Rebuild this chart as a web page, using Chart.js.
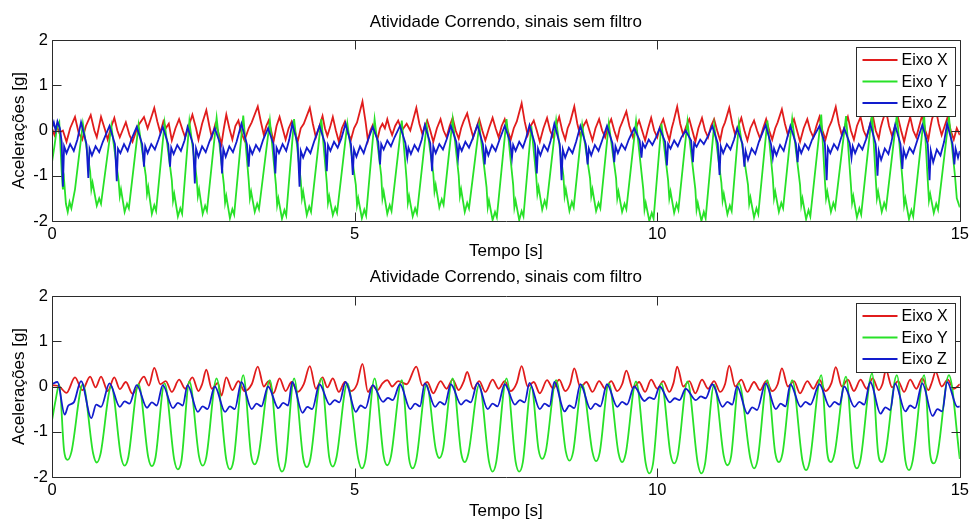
<!doctype html>
<html lang="pt">
    <head>
        <meta charset="UTF-8"/>
        <title>Atividade Correndo</title>
        <script src="https://cdn.jsdelivr.net/npm/chart.js@4/dist/chart.umd.min.js"></script>
        <style>
         * {
             margin: 0;
             padding: 0;
         }
         body {
             background: #fff;
             width: 973px;
             height: 520px;
             overflow: hidden;
         }
         .painel {
             position: absolute;
             left: 0;
             width: 973px;
             height: 260px;
         }
        </style>
    </head>
    <body>
        <div class="painel" style="top: 0"><canvas id="semFiltro" width="973" height="260"></canvas></div>
        <div class="painel" style="top: 260px"><canvas id="comFiltro" width="973" height="260"></canvas></div>
        <script>
         // pares [tempo (s), aceleração (g)]
         const semFiltroX = [[0,0.05],[0.04,-0.1],[0.08,0.1],[0.12,-0.05],[0.18,0.0],[0.24,-0.25],[0.3,0.05],[0.38,0.3],[0.44,-0.05],[0.5,-0.2],[0.56,0.1],[0.64,0.34],[0.7,0.0],[0.74,-0.15],[0.81,0.3],[0.88,0.0],[0.92,-0.2],[0.97,0.05],[1.03,0.28],[1.08,0.0],[1.12,-0.15],[1.18,0.05],[1.22,0.18],[1.28,-0.1],[1.33,-0.25],[1.42,0.1],[1.52,0.3],[1.58,0.05],[1.63,0.25],
             [1.69,0.5],[1.74,0.2],[1.79,-0.05],[1.84,0.2],[1.88,0.05],[1.93,0.15],[1.98,-0.22],[2.04,0.05],[2.1,0.25],[2.16,0.0],[2.2,-0.15],[2.26,0.1],[2.32,0.35],[2.38,0.05],[2.42,-0.2],[2.48,0.15],
             [2.55,0.45],[2.6,0.1],[2.64,-0.15],[2.7,0.15],[2.74,0.0],[2.8,-0.3],[2.84,0.05],[2.88,0.35],[2.93,0.05],[2.98,-0.2],[3.03,0.1],[3.08,0.22],[3.13,-0.05],[3.18,-0.22],[3.25,0.05],[3.3,0.18],
             [3.4,0.53],[3.45,0.2],[3.5,-0.1],[3.54,0.1],[3.58,0.22],[3.62,0.0],[3.66,-0.25],[3.71,0.1],[3.76,0.3],[3.81,0.05],[3.86,-0.2],[3.91,0.05],[3.96,0.2],[4.01,0.0],[4.06,-0.25],[4.11,0.05],[4.16,0.15],
             [4.26,0.5],[4.31,0.15],[4.36,-0.15],[4.42,0.1],[4.47,0.32],[4.51,0.05],[4.55,-0.12],[4.6,0.1],[4.64,0.3],[4.69,0.0],[4.74,-0.25],[4.79,0.05],[4.84,0.2],[4.89,-0.05],[4.94,-0.2],[4.99,0.05],[5.04,0.18],
             [5.13,0.64],[5.18,0.2],[5.22,-0.22],[5.26,0.0],[5.3,0.12],[5.34,-0.05],[5.38,-0.18],[5.42,0.05],[5.46,0.15],[5.5,0.05],[5.54,0.25],[5.58,0.05],[5.62,-0.1],[5.67,0.1],[5.72,0.22],[5.78,0.0],[5.86,0.15],[5.92,0.0],[5.96,0.2],
             [6.02,0.5],[6.07,0.15],[6.12,-0.08],[6.16,0.1],[6.2,0.22],[6.25,0.0],[6.3,-0.25],[6.36,0.05],[6.42,0.25],[6.47,0.0],[6.52,-0.15],[6.57,0.1],[6.62,0.28],[6.67,0.0],[6.72,-0.18],[6.76,0.05],[6.8,0.2],
             [6.86,0.38],[6.91,0.1],[6.96,-0.15],[7.01,0.05],[7.06,0.25],[7.11,0.0],[7.16,-0.22],[7.22,0.05],[7.28,0.28],[7.33,0.05],[7.38,-0.15],[7.43,0.1],[7.48,0.25],[7.53,0.0],[7.58,-0.2],[7.63,0.05],[7.68,0.2],
             [7.76,0.6],[7.81,0.2],[7.86,-0.1],[7.91,0.1],[7.96,0.22],[8.01,0.0],[8.06,-0.25],[8.12,0.05],[8.18,0.28],[8.23,0.0],[8.28,-0.15],[8.33,0.1],[8.38,0.3],[8.43,0.0],[8.48,-0.2],[8.52,0.05],[8.56,0.18],
             [8.63,0.53],[8.68,0.15],[8.73,-0.12],[8.78,0.1],[8.83,0.22],[8.88,0.0],[8.93,-0.22],[8.98,0.05],[9.04,0.25],[9.09,0.0],[9.14,-0.15],[9.19,0.1],[9.24,0.25],[9.29,0.0],[9.34,-0.2],[9.38,0.05],[9.42,0.18],
             [9.49,0.42],[9.54,0.1],[9.6,-0.15],[9.65,0.05],[9.7,0.22],[9.75,0.0],[9.8,-0.22],[9.85,0.05],[9.9,0.28],[9.95,0.0],[10.0,-0.15],[10.05,0.1],[10.1,0.25],[10.15,0.0],[10.2,-0.22],[10.24,0.05],[10.27,0.2],
             [10.33,0.53],[10.38,0.15],[10.43,-0.1],[10.48,0.1],[10.53,0.25],[10.58,0.0],[10.63,-0.25],[10.68,0.05],[10.74,0.28],[10.79,0.0],[10.84,-0.15],[10.89,0.1],[10.94,0.25],[10.99,0.0],[11.04,-0.22],[11.08,0.05],[11.12,0.18],
             [11.19,0.5],[11.24,0.15],[11.29,-0.1],[11.34,0.1],[11.39,0.28],[11.44,0.0],[11.49,-0.22],[11.54,0.05],[11.6,0.22],[11.65,0.0],[11.7,-0.18],[11.75,0.05],[11.8,0.25],[11.85,0.0],[11.9,-0.2],[11.95,0.05],[11.99,0.18],
             [12.06,0.47],[12.11,0.15],[12.16,-0.1],[12.21,0.1],[12.26,0.25],[12.31,0.0],[12.36,-0.25],[12.42,0.05],[12.48,0.25],[12.53,0.0],[12.58,-0.15],[12.63,0.1],[12.68,0.3],[12.73,0.0],[12.78,-0.2],[12.83,0.05],[12.88,0.2],
             [12.95,0.52],[13.0,0.15],[13.05,-0.1],[13.1,0.1],[13.15,0.3],[13.2,0.0],[13.25,-0.2],[13.3,0.1],[13.36,0.3],[13.41,0.0],[13.46,-0.15],[13.51,0.1],[13.56,0.35],[13.61,0.0],[13.66,-0.18],[13.69,0.05],[13.72,0.2],
             [13.78,0.45],[13.83,0.1],[13.88,-0.12],[13.93,0.1],[13.98,0.28],[14.03,0.0],[14.08,-0.25],[14.13,0.05],[14.18,0.3],[14.23,0.0],[14.28,-0.15],[14.33,0.1],[14.38,0.35],[14.43,0.0],[14.48,-0.2],[14.51,0.05],[14.54,0.25],
             [14.6,0.5],[14.65,0.15],[14.7,-0.1],[14.75,0.1],[14.8,0.3],[14.85,0.0],[14.9,-0.2],[14.95,0.05],[15,-0.1]];

         const semFiltroY = [[0,-0.7],[0.04,-0.35],[0.08,0.05],[0.12,0.18],
             [0.16,-0.9],[0.18,-1.3],[0.2,-1.1],[0.23,-1.62],[0.26,-1.8],[0.29,-1.58],[0.32,-1.72],[0.38,-1.3],[0.51,0.15],
             [0.63,-0.9],[0.65,-1.3],[0.67,-1.15],[0.74,-1.66],[0.78,-1.5],[0.81,-1.62],[0.98,0.1],
             [1.1,-1.1],[1.12,-1.45],[1.14,-1.3],[1.2,-1.8],[1.24,-1.62],[1.27,-1.72],[1.43,0.12],
             [1.55,-1.0],[1.57,-1.4],[1.59,-1.25],[1.65,-1.84],[1.69,-1.65],[1.72,-1.78],[1.86,0.17],
             [1.98,-1.1],[2.0,-1.55],[2.02,-1.4],[2.08,-1.9],[2.12,-1.72],[2.15,-1.84],[2.27,0.2],
             [2.39,-1.05],[2.41,-1.45],[2.43,-1.3],[2.49,-1.84],[2.53,-1.66],[2.56,-1.78],[2.72,0.28],
             [2.84,-1.2],[2.86,-1.6],[2.88,-1.45],[2.94,-1.94],[2.98,-1.74],[3.01,-1.86],[3.16,0.33],
             [3.25,-1.1],[3.27,-1.5],[3.29,-1.35],[3.35,-1.8],[3.39,-1.62],[3.42,-1.74],[3.6,0.22],
             [3.7,-1.2],[3.72,-1.65],[3.74,-1.5],[3.8,-1.95],[3.84,-1.76],[3.87,-1.88],[4.0,0.25],
             [4.11,-1.1],[4.13,-1.5],[4.15,-1.35],[4.21,-1.87],[4.25,-1.68],[4.28,-1.8],[4.45,0.25],
             [4.54,-1.15],[4.56,-1.6],[4.58,-1.45],[4.64,-1.87],[4.68,-1.7],[4.71,-1.82],[4.88,0.15],
             [5.02,-1.2],[5.04,-1.65],[5.06,-1.5],[5.12,-1.94],[5.16,-1.75],[5.19,-1.88],[5.33,0.25],
             [5.44,-1.0],[5.46,-1.5],[5.48,-1.35],[5.54,-1.84],[5.58,-1.65],[5.61,-1.78],[5.78,0.22],
             [5.86,-1.1],[5.88,-1.6],[5.9,-1.45],[5.96,-1.9],[6.0,-1.72],[6.03,-1.84],[6.19,0.12],
             [6.3,-0.95],[6.32,-1.35],[6.34,-1.2],[6.4,-1.7],[6.44,-1.52],[6.47,-1.64],[6.62,0.25],
             [6.72,-1.0],[6.74,-1.45],[6.76,-1.3],[6.82,-1.8],[6.86,-1.6],[6.89,-1.72],[7.06,0.12],
             [7.18,-1.25],[7.2,-1.7],[7.22,-1.55],[7.28,-1.98],[7.32,-1.8],[7.35,-1.92],[7.51,0.25],
             [7.62,-1.2],[7.64,-1.7],[7.66,-1.55],[7.72,-1.98],[7.76,-1.78],[7.79,-1.9],[7.92,0.1],
             [8.0,-1.0],[8.02,-1.4],[8.04,-1.25],[8.1,-1.75],[8.14,-1.55],[8.17,-1.68],[8.33,0.22],
             [8.45,-1.0],[8.47,-1.45],[8.49,-1.3],[8.55,-1.78],[8.59,-1.58],[8.62,-1.7],[8.76,0.12],
             [8.89,-1.05],[8.91,-1.45],[8.93,-1.3],[8.99,-1.78],[9.03,-1.6],[9.06,-1.72],[9.2,0.15],
             [9.32,-1.05],[9.34,-1.5],[9.36,-1.35],[9.42,-1.8],[9.46,-1.62],[9.49,-1.74],[9.65,0.2],
             [9.77,-1.3],[9.79,-1.75],[9.81,-1.6],[9.87,-2.0],[9.91,-1.82],[9.94,-1.95],[10.07,0.15],
             [10.18,-1.1],[10.2,-1.5],[10.22,-1.35],[10.28,-1.82],[10.32,-1.62],[10.35,-1.75],[10.5,0.2],
             [10.63,-1.3],[10.65,-1.75],[10.67,-1.6],[10.73,-2.0],[10.77,-1.8],[10.8,-1.94],[10.94,0.12],
             [11.06,-1.15],[11.08,-1.55],[11.1,-1.4],[11.16,-1.85],[11.2,-1.66],[11.23,-1.78],[11.35,0.15],
             [11.5,-1.2],[11.52,-1.62],[11.54,-1.48],[11.6,-1.92],[11.64,-1.72],[11.67,-1.85],[11.82,0.22],
             [11.91,-1.05],[11.93,-1.5],[11.95,-1.35],[12.01,-1.8],[12.05,-1.6],[12.08,-1.72],[12.23,0.25],
             [12.36,-1.2],[12.38,-1.65],[12.4,-1.5],[12.46,-1.96],[12.5,-1.76],[12.53,-1.9],[12.71,0.35],
             [12.77,-1.1],[12.79,-1.5],[12.81,-1.35],[12.87,-1.8],[12.91,-1.6],[12.94,-1.72],[13.12,0.32],
             [13.2,-1.2],[13.22,-1.6],[13.24,-1.45],[13.3,-1.92],[13.34,-1.72],[13.37,-1.86],[13.55,0.4],
             [13.61,-1.05],[13.63,-1.5],[13.65,-1.35],[13.71,-1.8],[13.75,-1.6],[13.78,-1.72],[13.96,0.35],
             [14.06,-1.2],[14.08,-1.65],[14.1,-1.5],[14.16,-1.96],[14.2,-1.76],[14.23,-1.9],[14.41,0.35],
             [14.47,-1.1],[14.49,-1.55],[14.51,-1.4],[14.57,-1.82],[14.61,-1.62],[14.64,-1.75],[14.82,0.3],
             [14.92,-1.0],[14.95,-1.5],[15,-1.7]];

         const semFiltroZ = [[0,0.05],[0.03,0.18],[0.06,0.0],[0.09,0.2],[0.13,0.05],[0.16,-0.25],[0.18,-1.24],[0.2,-0.35],[0.24,-0.5],[0.3,-0.3],[0.36,-0.45],[0.42,-0.2],
             [0.48,0.18],[0.57,-0.3],[0.6,-1.05],[0.62,-0.4],[0.66,-0.55],[0.72,-0.35],[0.78,-0.48],[0.84,-0.25],
             [0.95,0.1],[1.04,-0.3],[1.07,-1.12],[1.09,-0.4],[1.13,-0.5],[1.19,-0.3],[1.25,-0.45],[1.31,-0.2],
             [1.4,0.08],[1.49,-0.3],[1.52,-0.8],[1.54,-0.35],[1.58,-0.5],[1.64,-0.3],[1.7,-0.42],[1.76,-0.2],
             [1.83,0.08],[1.92,-0.3],[1.95,-0.8],[1.97,-0.38],[2.01,-0.52],[2.07,-0.32],[2.13,-0.45],[2.19,-0.22],
             [2.24,0.08],[2.33,-0.3],[2.36,-1.17],[2.38,-0.4],[2.42,-0.58],[2.48,-0.35],[2.54,-0.48],[2.6,-0.25],
             [2.69,0.05],[2.78,-0.3],[2.81,-0.95],[2.83,-0.4],[2.87,-0.58],[2.93,-0.35],[2.99,-0.48],[3.05,-0.25],
             [3.13,0.15],[3.22,-0.3],[3.25,-0.8],[3.27,-0.38],[3.31,-0.52],[3.37,-0.32],[3.43,-0.45],[3.49,-0.2],
             [3.57,0.05],[3.66,-0.3],[3.69,-0.95],[3.71,-0.38],[3.75,-0.5],[3.81,-0.3],[3.87,-0.45],[3.92,-0.2],
             [3.97,0.15],[4.06,-0.3],[4.09,-1.24],[4.11,-0.45],[4.15,-0.6],[4.21,-0.38],[4.27,-0.5],[4.33,-0.25],
             [4.42,0.1],[4.51,-0.28],[4.54,-0.9],[4.56,-0.32],[4.6,-0.45],[4.66,-0.25],[4.72,-0.38],[4.78,-0.18],
             [4.85,0.15],[4.94,-0.3],[4.97,-0.98],[4.99,-0.42],[5.03,-0.58],[5.09,-0.35],[5.15,-0.5],[5.21,-0.25],
             [5.3,0.08],[5.39,-0.25],[5.42,-0.75],[5.44,-0.3],[5.48,-0.42],[5.54,-0.22],[5.6,-0.35],[5.66,-0.15],
             [5.75,0.1],[5.84,-0.28],[5.87,-0.6],[5.89,-0.38],[5.93,-0.52],[5.99,-0.32],[6.05,-0.45],[6.11,-0.2],
             [6.16,0.12],[6.25,-0.28],[6.28,-0.9],[6.3,-0.35],[6.34,-0.5],[6.4,-0.3],[6.46,-0.42],[6.52,-0.2],
             [6.59,0.1],[6.68,-0.25],[6.71,-0.6],[6.73,-0.32],[6.77,-0.45],[6.83,-0.25],[6.89,-0.38],[6.95,-0.18],
             [7.03,0.12],[7.12,-0.3],[7.15,-0.75],[7.17,-0.38],[7.21,-0.55],[7.27,-0.32],[7.33,-0.45],[7.39,-0.22],
             [7.48,0.1],[7.57,-0.25],[7.6,-0.6],[7.62,-0.32],[7.66,-0.45],[7.72,-0.25],[7.78,-0.38],[7.83,-0.18],
             [7.89,0.12],[7.98,-0.3],[8.01,-0.95],[8.03,-0.4],[8.07,-0.55],[8.13,-0.32],[8.19,-0.45],[8.24,-0.22],
             [8.3,0.15],[8.39,-0.3],[8.42,-1.1],[8.44,-0.42],[8.48,-0.6],[8.54,-0.38],[8.6,-0.5],[8.66,-0.25],
             [8.73,0.1],[8.82,-0.3],[8.85,-0.75],[8.87,-0.4],[8.91,-0.55],[8.97,-0.32],[9.03,-0.45],[9.09,-0.22],
             [9.17,0.1],[9.26,-0.28],[9.29,-0.7],[9.31,-0.35],[9.35,-0.5],[9.41,-0.3],[9.47,-0.42],[9.53,-0.2],
             [9.62,0.05],[9.71,-0.22],[9.74,-0.6],[9.76,-0.28],[9.8,-0.38],[9.86,-0.2],[9.92,-0.32],[9.98,-0.15],
             [10.04,0.05],[10.13,-0.25],[10.16,-0.77],[10.18,-0.3],[10.22,-0.4],[10.28,-0.22],[10.34,-0.35],[10.4,-0.15],
             [10.47,0.0],[10.56,-0.22],[10.59,-0.7],[10.61,-0.28],[10.65,-0.36],[10.71,-0.2],[10.77,-0.3],[10.83,-0.15],
             [10.91,0.1],[11.0,-0.28],[11.03,-0.98],[11.05,-0.35],[11.09,-0.5],[11.15,-0.3],[11.21,-0.42],[11.27,-0.2],
             [11.32,0.05],[11.41,-0.3],[11.44,-0.8],[11.46,-0.45],[11.5,-0.65],[11.56,-0.4],[11.62,-0.52],[11.68,-0.25],
             [11.79,0.12],[11.88,-0.3],[11.91,-0.6],[11.93,-0.4],[11.97,-0.55],[12.03,-0.32],[12.09,-0.45],[12.14,-0.2],
             [12.2,0.1],[12.29,-0.28],[12.32,-0.7],[12.34,-0.35],[12.38,-0.5],[12.44,-0.3],[12.5,-0.42],[12.56,-0.2],
             [12.68,0.1],[12.77,-0.28],[12.8,-1.1],[12.82,-0.38],[12.86,-0.5],[12.92,-0.3],[12.98,-0.42],[13.03,-0.2],
             [13.09,0.05],[13.18,-0.28],[13.21,-0.6],[13.23,-0.35],[13.27,-0.5],[13.33,-0.3],[13.39,-0.42],[13.45,-0.2],
             [13.52,0.15],[13.61,-0.3],[13.64,-1.0],[13.66,-0.45],[13.7,-0.65],[13.76,-0.4],[13.82,-0.52],[13.87,-0.25],
             [13.93,0.12],[14.02,-0.3],[14.05,-0.85],[14.07,-0.42],[14.11,-0.6],[14.17,-0.38],[14.23,-0.5],[14.29,-0.25],
             [14.38,0.12],[14.47,-0.3],[14.5,-1.1],[14.52,-0.45],[14.56,-0.7],[14.62,-0.42],[14.68,-0.55],[14.74,-0.25],
             [14.79,0.15],[14.88,-0.3],[14.91,-0.75],[14.93,-0.4],[14.97,-0.6],[15,-0.45]];

         const comFiltroX = [[0,0.03],[0.12,0.0],[0.24,-0.14],[0.38,0.2],[0.5,-0.08],[0.63,0.22],[0.72,-0.02],[0.81,0.22],[0.92,-0.1],[1.03,0.2],[1.12,-0.06],[1.22,0.1],[1.33,-0.16],[1.52,0.22],[1.6,0.02],
             [1.69,0.41],[1.79,0.05],[1.88,0.12],[1.98,-0.12],[2.1,0.15],[2.2,-0.05],[2.32,0.2],[2.42,-0.1],[2.48,0.05],
             [2.55,0.37],[2.64,-0.05],[2.74,0.08],[2.8,-0.2],[2.88,0.2],[2.98,-0.08],[3.08,0.12],[3.18,-0.1],[3.3,0.05],
             [3.4,0.44],[3.5,0.0],[3.58,0.12],[3.66,-0.15],[3.76,0.18],[3.86,-0.1],[3.96,0.1],[4.06,-0.12],[4.16,0.05],
             [4.26,0.45],[4.36,-0.05],[4.47,0.2],[4.55,-0.02],[4.64,0.18],[4.74,-0.12],[4.84,0.1],[4.94,-0.1],[5.04,0.05],
             [5.13,0.5],[5.22,-0.12],[5.3,0.02],[5.38,-0.08],[5.46,0.07],[5.54,0.14],[5.62,0.0],[5.72,0.12],[5.86,0.05],
             [6.02,0.44],[6.12,0.02],[6.2,0.1],[6.3,-0.15],[6.42,0.12],[6.52,-0.05],[6.62,0.15],[6.72,-0.08],[6.8,0.1],
             [6.86,0.32],[6.96,-0.05],[7.06,0.12],[7.16,-0.12],[7.28,0.15],[7.38,-0.05],[7.48,0.12],[7.58,-0.1],[7.68,0.08],
             [7.76,0.45],[7.86,0.0],[7.96,0.1],[8.06,-0.15],[8.18,0.14],[8.28,-0.05],[8.38,0.15],[8.48,-0.1],[8.56,0.05],
             [8.63,0.4],[8.73,-0.02],[8.83,0.1],[8.93,-0.12],[9.04,0.12],[9.14,-0.05],[9.24,0.12],[9.34,-0.1],[9.42,0.05],
             [9.49,0.35],[9.6,-0.05],[9.7,0.1],[9.8,-0.12],[9.9,0.15],[10.0,-0.05],[10.1,0.12],[10.2,-0.12],[10.27,0.08],
             [10.33,0.44],[10.43,0.0],[10.53,0.12],[10.63,-0.15],[10.74,0.15],[10.84,-0.05],[10.94,0.12],[11.04,-0.12],[11.12,0.05],
             [11.19,0.46],[11.29,0.0],[11.39,0.15],[11.49,-0.12],[11.6,0.1],[11.7,-0.08],[11.8,0.12],[11.9,-0.1],[11.99,0.05],
             [12.06,0.4],[12.16,0.0],[12.26,0.12],[12.36,-0.15],[12.48,0.12],[12.58,-0.05],[12.68,0.15],[12.78,-0.1],[12.88,0.08],
             [12.95,0.43],[13.05,0.0],[13.15,0.15],[13.25,-0.1],[13.36,0.15],[13.46,-0.05],[13.56,0.18],[13.66,-0.08],[13.72,0.05],
             [13.78,0.36],[13.88,-0.02],[13.98,0.12],[14.08,-0.12],[14.18,0.15],[14.28,-0.05],[14.38,0.18],[14.48,-0.08],[14.54,0.1],
             [14.6,0.33],[14.7,0.0],[14.8,0.15],[14.9,-0.05],[15,0.05]];

         const comFiltroY = [[0,-0.75],[0.06,-0.3],[0.12,0.05],
             [0.2,-1.42],[0.26,-1.62],[0.32,-1.45],[0.51,0.05],
             [0.68,-1.48],[0.74,-1.68],[0.8,-1.5],[0.98,0.0],
             [1.14,-1.55],[1.2,-1.75],[1.26,-1.57],[1.43,0.05],
             [1.59,-1.56],[1.65,-1.76],[1.71,-1.57],[1.86,0.07],
             [2.02,-1.62],[2.08,-1.83],[2.14,-1.63],[2.27,0.11],
             [2.43,-1.55],[2.49,-1.75],[2.55,-1.56],[2.72,0.18],
             [2.88,-1.62],[2.94,-1.83],[3.0,-1.63],[3.16,0.25],
             [3.29,-1.52],[3.35,-1.72],[3.41,-1.53],[3.6,0.14],
             [3.74,-1.66],[3.8,-1.88],[3.86,-1.67],[4.0,0.18],
             [4.15,-1.58],[4.21,-1.78],[4.27,-1.59],[4.45,0.18],
             [4.58,-1.56],[4.64,-1.77],[4.7,-1.57],[4.88,0.07],
             [5.06,-1.6],[5.12,-1.81],[5.18,-1.61],[5.33,0.18],
             [5.48,-1.54],[5.54,-1.74],[5.6,-1.55],[5.78,0.14],
             [5.9,-1.6],[5.96,-1.81],[6.02,-1.61],[6.19,0.04],
             [6.34,-1.38],[6.4,-1.58],[6.46,-1.4],[6.62,0.18],
             [6.76,-1.47],[6.82,-1.67],[6.88,-1.48],[7.06,0.04],
             [7.22,-1.66],[7.28,-1.88],[7.34,-1.67],[7.51,0.18],
             [7.66,-1.66],[7.72,-1.88],[7.78,-1.67],[7.92,0.0],
             [8.04,-1.4],[8.1,-1.6],[8.16,-1.42],[8.33,0.14],
             [8.49,-1.44],[8.55,-1.64],[8.61,-1.45],[8.76,0.04],
             [8.93,-1.45],[8.99,-1.65],[9.05,-1.46],[9.2,0.07],
             [9.36,-1.47],[9.42,-1.67],[9.48,-1.48],[9.65,0.11],
             [9.81,-1.7],[9.87,-1.92],[9.93,-1.71],[10.07,0.07],
             [10.22,-1.5],[10.28,-1.7],[10.34,-1.51],[10.5,0.11],
             [10.67,-1.7],[10.73,-1.92],[10.79,-1.71],[10.94,0.04],
             [11.1,-1.54],[11.16,-1.74],[11.22,-1.55],[11.35,0.07],
             [11.54,-1.6],[11.6,-1.81],[11.66,-1.61],[11.82,0.14],
             [11.95,-1.47],[12.01,-1.67],[12.07,-1.48],[12.23,0.14],
             [12.4,-1.64],[12.46,-1.85],[12.52,-1.65],[12.71,0.25],
             [12.81,-1.47],[12.87,-1.67],[12.93,-1.48],[13.12,0.22],
             [13.24,-1.6],[13.3,-1.81],[13.36,-1.61],[13.55,0.29],
             [13.65,-1.47],[13.71,-1.67],[13.77,-1.48],[13.96,0.25],
             [14.1,-1.64],[14.16,-1.85],[14.22,-1.65],[14.41,0.25],
             [14.51,-1.5],[14.57,-1.7],[14.63,-1.51],[14.82,0.25],
             [15,-1.6]];

         const comFiltroZ = [[0,0.05],[0.09,0.1],[0.21,-0.62],[0.27,-0.42],[0.36,-0.35],
             [0.48,0.12],[0.65,-0.7],[0.73,-0.4],[0.81,-0.45],
             [0.95,0.07],[1.12,-0.45],[1.2,-0.33],[1.28,-0.38],
             [1.4,0.03],[1.57,-0.47],[1.65,-0.35],[1.73,-0.42],
             [1.83,0.03],[2.0,-0.48],[2.08,-0.36],[2.16,-0.42],
             [2.24,0.03],[2.41,-0.56],[2.49,-0.44],[2.57,-0.5],
             [2.69,0.0],[2.86,-0.56],[2.94,-0.44],[3.02,-0.5],
             [3.13,0.1],[3.3,-0.5],[3.38,-0.38],[3.46,-0.44],
             [3.57,0.0],[3.74,-0.48],[3.82,-0.36],[3.9,-0.42],
             [3.97,0.1],[4.14,-0.58],[4.22,-0.45],[4.3,-0.5],
             [4.42,0.05],[4.59,-0.4],[4.67,-0.3],[4.75,-0.35],
             [4.85,0.1],[5.02,-0.56],[5.1,-0.42],[5.18,-0.48],
             [5.3,0.03],[5.47,-0.34],[5.55,-0.25],[5.63,-0.3],
             [5.75,0.05],[5.92,-0.5],[6.0,-0.38],[6.08,-0.44],
             [6.16,0.07],[6.33,-0.45],[6.41,-0.34],[6.49,-0.4],
             [6.59,0.05],[6.76,-0.4],[6.84,-0.3],[6.92,-0.35],
             [7.03,0.08],[7.2,-0.5],[7.28,-0.38],[7.36,-0.44],
             [7.48,0.05],[7.65,-0.4],[7.73,-0.3],[7.81,-0.35],
             [7.89,0.08],[8.06,-0.5],[8.14,-0.38],[8.22,-0.44],
             [8.3,0.1],[8.47,-0.55],[8.55,-0.42],[8.63,-0.48],
             [8.73,0.05],[8.9,-0.5],[8.98,-0.38],[9.06,-0.44],
             [9.17,0.05],[9.34,-0.45],[9.42,-0.34],[9.5,-0.4],
             [9.62,0.0],[9.79,-0.32],[9.87,-0.24],[9.95,-0.28],
             [10.04,0.0],[10.21,-0.35],[10.29,-0.26],[10.37,-0.3],
             [10.47,-0.05],[10.64,-0.3],[10.72,-0.22],[10.8,-0.26],
             [10.91,0.05],[11.08,-0.45],[11.16,-0.34],[11.24,-0.4],
             [11.32,0.0],[11.49,-0.6],[11.57,-0.46],[11.65,-0.52],
             [11.79,0.07],[11.96,-0.5],[12.04,-0.38],[12.12,-0.44],
             [12.2,0.05],[12.37,-0.45],[12.45,-0.34],[12.53,-0.4],
             [12.68,0.05],[12.85,-0.45],[12.93,-0.34],[13.01,-0.4],
             [13.09,0.0],[13.26,-0.45],[13.34,-0.34],[13.42,-0.4],
             [13.52,0.1],[13.69,-0.6],[13.77,-0.46],[13.85,-0.52],
             [13.93,0.07],[14.1,-0.55],[14.18,-0.42],[14.26,-0.48],
             [14.38,0.07],[14.55,-0.65],[14.63,-0.5],[14.71,-0.55],
             [14.79,0.1],[14.96,-0.45],[15,-0.44]];

         const ticksTempo = [0, 5, 10, 15];
         const ticksAcel = [-2, -1, 0, 1, 2];

         const corX = 'rgb(225, 28, 28)';
         const corY = 'rgb(40, 225, 40)';
         const corZ = 'rgb(18, 28, 205)';

         Chart.defaults.font.family = "'Liberation Sans', Arial, Helvetica, sans-serif";
         Chart.defaults.color = '#000';

         // caixa dos eixos com marcas para dentro, nos quatro lados
         const moldura = {
             id: 'moldura',
             afterDatasetsDraw(chart) {
                 const { ctx, chartArea: a, scales } = chart;
                 const l = Math.round(a.left) + 0.5, r = Math.round(a.right) + 0.5;
                 const t = Math.round(a.top) + 0.5, b = Math.round(a.bottom) + 0.5;
                 ctx.save();
                 ctx.strokeStyle = '#2b2b2b';
                 ctx.lineWidth = 1;
                 ctx.beginPath();
                 ctx.rect(l, t, r - l, b - t);
                 scales.x.ticks.forEach(tk => {
                     const px = Math.round(scales.x.getPixelForValue(tk.value)) + 0.5;
                     ctx.moveTo(px, b); ctx.lineTo(px, b - 9);
                     ctx.moveTo(px, t); ctx.lineTo(px, t + 9);
                 });
                 scales.y.ticks.forEach(tk => {
                     const py = Math.round(scales.y.getPixelForValue(tk.value)) + 0.5;
                     ctx.moveTo(l, py); ctx.lineTo(l + 9, py);
                     ctx.moveTo(r, py); ctx.lineTo(r - 9, py);
                 });
                 ctx.stroke();
                 ctx.restore();
             }
         };

         // legenda no canto superior direito, dentro dos eixos
         const legenda = {
             id: 'legenda',
             afterDraw(chart) {
                 const { ctx, chartArea: a } = chart;
                 const x0 = Math.round(a.right - 103.5) + 0.5;
                 const y0 = Math.round(a.top + 6.5) + 0.5;
                 ctx.save();
                 ctx.fillStyle = '#fff';
                 ctx.fillRect(x0, y0, 99, 69);
                 ctx.strokeStyle = '#2b2b2b';
                 ctx.lineWidth = 1;
                 ctx.strokeRect(x0, y0, 99, 69);
                 ctx.font = "16px 'Liberation Sans', Arial, sans-serif";
                 ctx.textBaseline = 'middle';
                 chart.data.datasets.forEach((ds, i) => {
                     const y = y0 + 12.5 + i * 21.5;
                     ctx.strokeStyle = ds.borderColor;
                     ctx.lineWidth = ds.borderWidth;
                     ctx.beginPath();
                     ctx.moveTo(x0 + 6, y);
                     ctx.lineTo(x0 + 41, y);
                     ctx.stroke();
                     ctx.fillStyle = '#000';
                     ctx.fillText(ds.label, x0 + 45, y + 1);
                 });
                 ctx.restore();
             }
         };

         function serie(label, data, cor, ordem, suave) {
             return {
                 label: label,
                 data: data,
                 borderColor: cor,
                 backgroundColor: cor,
                 borderWidth: 1.8,
                 pointRadius: 0,
                 fill: false,
                 order: ordem,
                 tension: 0,
                 cubicInterpolationMode: suave ? 'monotone' : 'default'
             };
         }

         function criarGrafico(id, titulo, x, y, z, suave, padTitulo, alturaEixoX) {
             return new Chart(document.getElementById(id), {
                 type: 'line',
                 data: {
                     datasets: [
                         serie('Eixo X', x, corX, 3, suave),
                         serie('Eixo Y', y, corY, 2, suave),
                         serie('Eixo Z', z, corZ, 1, suave)
                     ]
                 },
                 options: {
                     responsive: false,
                     animation: false,
                     events: [],
                     layout: { padding: { left: 0, right: 12, top: 0, bottom: 0 } },
                     plugins: {
                         legend: { display: false },
                         tooltip: { enabled: false },
                         title: {
                             display: true,
                             text: titulo,
                             fullSize: false,
                             color: '#000',
                             font: { size: 17, weight: 'normal' },
                             padding: padTitulo
                         }
                     },
                     scales: {
                         x: {
                             type: 'linear',
                             min: 0,
                             max: 15,
                             grid: { display: false, drawTicks: false },
                             border: { display: false },
                             afterBuildTicks: s => { s.ticks = ticksTempo.map(v => ({ value: v })); },
                             afterFit: s => { s.height = alturaEixoX; },
                             ticks: { font: { size: 16.5 }, padding: 4, maxRotation: 0 },
                             title: {
                                 display: true,
                                 text: 'Tempo [s]',
                                 font: { size: 17, lineHeight: 1 },
                                 padding: { top: 0, bottom: 0 }
                             }
                         },
                         y: {
                             type: 'linear',
                             min: -2,
                             max: 2,
                             grid: { display: false, drawTicks: false },
                             border: { display: false },
                             afterBuildTicks: s => { s.ticks = ticksAcel.map(v => ({ value: v })); },
                             afterFit: s => { s.width = 52; },
                             ticks: { font: { size: 16.5 }, padding: 4 },
                             title: {
                                 display: true,
                                 text: 'Acelerações [g]',
                                 font: { size: 17, lineHeight: 1 },
                                 padding: { top: 11, bottom: 0 }
                             }
                         }
                     }
                 },
                 plugins: [moldura, legenda]
             });
         }

         criarGrafico('semFiltro', 'Atividade Correndo, sinais sem filtro',
                      semFiltroX, semFiltroY, semFiltroZ, false, { top: 11.8, bottom: 7.8 }, 39);
         criarGrafico('comFiltro', 'Atividade Correndo, sinais com filtro',
                      comFiltroX, comFiltroY, comFiltroZ, true, { top: 7.2, bottom: 8.4 }, 43);
        </script>
    </body>
</html>
